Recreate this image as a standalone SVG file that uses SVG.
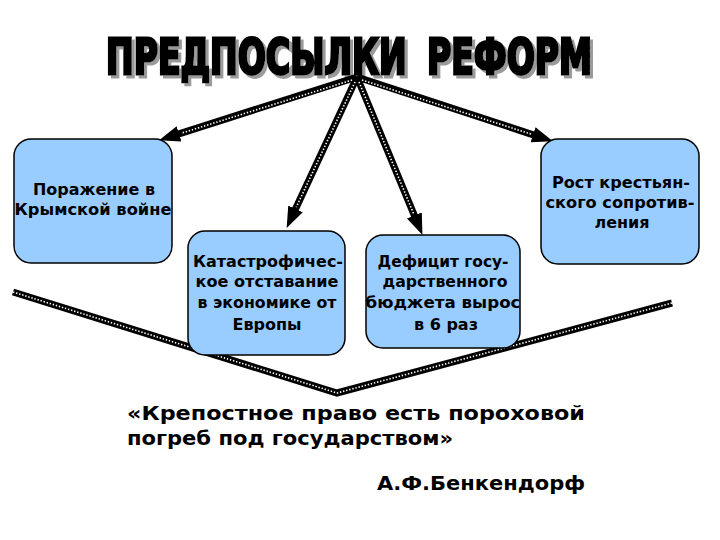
<svg xmlns="http://www.w3.org/2000/svg" width="720" height="540" viewBox="0 0 720 540">
<defs>
<style>
.title{font-family:"DejaVu Sans Condensed","DejaVu Sans","Liberation Sans",sans-serif;font-weight:bold;font-size:50px;fill:#000;stroke:#000;stroke-width:3;stroke-linejoin:miter;word-spacing:12px;}
.box{fill:#99CCFF;stroke:#000;stroke-width:1.5;}
.lbl{font-family:"DejaVu Sans","Liberation Sans",sans-serif;font-weight:bold;font-size:16px;fill:#000;text-anchor:middle;}
.quote{font-family:"DejaVu Sans","Liberation Sans",sans-serif;font-weight:bold;font-size:20px;fill:#000;}
.ln{fill:none;stroke:#000;stroke-width:7;}
.dots{fill:none;stroke:#fff;stroke-width:1.6;stroke-dasharray:1.4 1.8;}
</style>
<filter id="sh" filterUnits="userSpaceOnUse" x="-50" y="-80" width="900" height="130">
<feDropShadow dx="4" dy="3" stdDeviation="0.6" flood-color="#9a9a9a" flood-opacity="1"/>
</filter>
<marker id="ah" markerUnits="userSpaceOnUse" markerWidth="22" markerHeight="17" refX="5" refY="8" orient="auto">
<path d="M0,0 L21,8 L0,16 z" fill="#000"/>
</marker>
</defs>
<rect width="720" height="540" fill="#fff"/>
<g id="title" transform="translate(106,74) scale(0.75,1)">
<text class="title" x="0" y="0" textLength="648" lengthAdjust="spacingAndGlyphs" filter="url(#sh)">ПРЕДПОСЫЛКИ РЕФОРМ</text>
</g>
<g id="connectors">
<line class="ln" x1="357" y1="77" x2="174.3" y2="135.4" marker-end="url(#ah)"/>
<line class="ln" x1="357" y1="77" x2="293.4" y2="213.4" marker-end="url(#ah)"/>
<line class="ln" x1="357" y1="77" x2="416.3" y2="220.1" marker-end="url(#ah)"/>
<line class="ln" x1="357" y1="77" x2="537.8" y2="136.3" marker-end="url(#ah)"/>
<line class="dots" x1="352" y1="80" x2="181" y2="133.3"/>
<line class="dots" x1="355" y1="82" x2="296.3" y2="207.1"/>
<line class="dots" x1="359" y1="82" x2="413.6" y2="213.7"/>
<line class="dots" x1="362" y1="80" x2="531.1" y2="134.1"/>
<polyline class="ln" points="13,292 337,393 672,303"/>
<polyline class="dots" points="13,292 337,393 672,303"/>
</g>
<g id="node-crimea">
<rect class="box" x="14" y="139" width="158" height="124" rx="17"/>
<text class="lbl" x="94" y="195" textLength="122" lengthAdjust="spacingAndGlyphs">Поражение в</text>
<text class="lbl" x="93" y="215" textLength="157" lengthAdjust="spacingAndGlyphs">Крымской войне</text>
</g>
<g id="node-peasants">
<rect class="box" x="541" y="139" width="158" height="125" rx="17"/>
<text class="lbl" x="621" y="188" textLength="138" lengthAdjust="spacingAndGlyphs">Рост крестьян-</text>
<text class="lbl" x="620" y="208" textLength="149" lengthAdjust="spacingAndGlyphs">ского сопротив-</text>
<text class="lbl" x="622" y="228">ления</text>
</g>
<g id="node-economy">
<rect class="box" x="188" y="231" width="157" height="124" rx="17"/>
<text class="lbl" x="268" y="267" textLength="150" lengthAdjust="spacingAndGlyphs">Катастрофичес-</text>
<text class="lbl" x="267" y="287" textLength="143" lengthAdjust="spacingAndGlyphs">кое  отставание</text>
<text class="lbl" x="267" y="308" textLength="139" lengthAdjust="spacingAndGlyphs">в экономике от</text>
<text class="lbl" x="267" y="330">Европы</text>
</g>
<g id="node-deficit">
<rect class="box" x="366" y="235" width="154" height="113" rx="17"/>
<text class="lbl" x="443" y="267" textLength="131" lengthAdjust="spacingAndGlyphs">Дефицит госу-</text>
<text class="lbl" x="445" y="287" textLength="125" lengthAdjust="spacingAndGlyphs">дарственного</text>
<text class="lbl" x="443" y="308" textLength="155" lengthAdjust="spacingAndGlyphs">бюджета вырос</text>
<text class="lbl" x="446" y="330">в 6 раз</text>
</g>
<g id="quote">
<text class="quote" x="127" y="420" textLength="458" lengthAdjust="spacingAndGlyphs">«Крепостное  право есть пороховой</text>
<text class="quote" x="127" y="445" textLength="326" lengthAdjust="spacingAndGlyphs">погреб под государством»</text>
<text class="quote" x="377" y="490" textLength="208" lengthAdjust="spacingAndGlyphs">А.Ф.Бенкендорф</text>
</g>
</svg>
